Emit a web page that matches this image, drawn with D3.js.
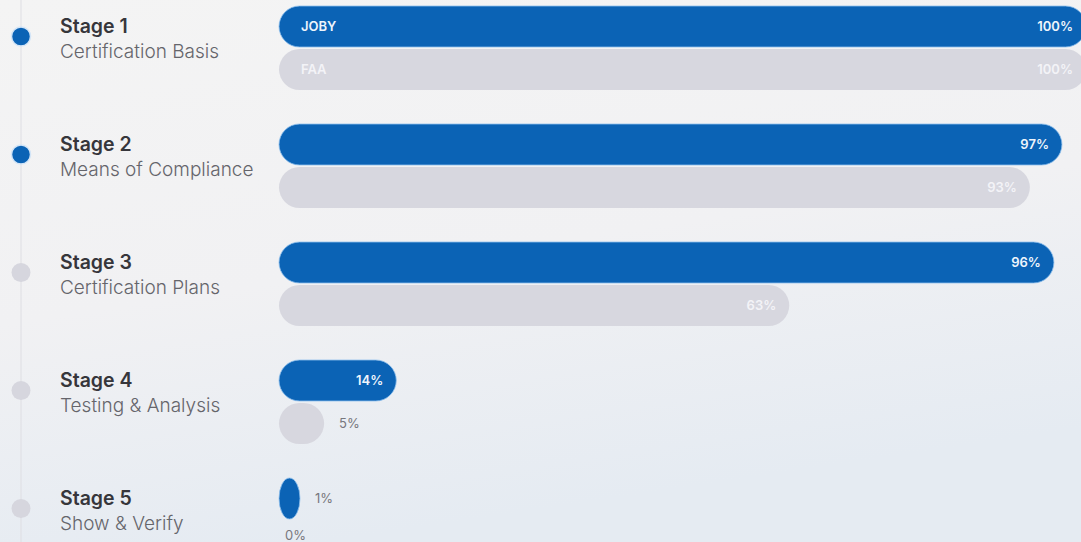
<!DOCTYPE html>
<html>
<head>
<meta charset="utf-8">
<script src="https://cdn.jsdelivr.net/npm/d3@7"></script>
<style>
  html, body { margin: 0; padding: 0; overflow: hidden; }
  body { width: 1081px; height: 542px; }
  text { font-family: Inter, Roboto, "Noto Sans", sans-serif; }
</style>
</head>
<body>
<div id="chart"></div>
<script>
// stages of the certification, with JOBY and FAA progress in percent
const stages = ["Stage 1", "Stage 2", "Stage 3", "Stage 4", "Stage 5"];
const stageNames = ["Certification Basis", "Means of Compliance", "Certification Plans", "Testing & Analysis", "Show & Verify"];
const jobyValues = [100, 97, 96, 14, 1];
const faaValues = [100, 93, 63, 5, 0];
const stageDone = [true, true, false, false, false];
const seriesNames = ["JOBY", "FAA"];

const width = 1081, height = 542;
const blue = "#0b63b5", grey = "#d7d7df";

var svg = d3.select("#chart").append("svg")
    .attr("width", width)
    .attr("height", height);

// soft background
var defs = svg.append("defs");
var bg = defs.append("linearGradient").attr("id", "bg")
    .attr("x1", "0").attr("y1", "0").attr("x2", "0.3").attr("y2", "1");
bg.append("stop").attr("offset", "0").attr("stop-color", "#f4f4f4");
bg.append("stop").attr("offset", "0.55").attr("stop-color", "#f1f1f3");
bg.append("stop").attr("offset", "1").attr("stop-color", "#e5ebf2");
svg.append("rect").attr("width", width).attr("height", height).attr("fill", "url(#bg)");

var yScale = d3.scaleBand()
    .domain(stages)
    .range([6, 6 + stages.length * 118]);

var xScale = d3.scaleLinear()
    .domain([0, 100])
    .range([284, 1086]);

const barX = 279, barH = 41, gap = 2;

function barWidth(v) {
    if (v <= 0) return 0;
    return Math.max(xScale(v) - barX, 21);
}

// timeline on the left
svg.append("line")
    .attr("x1", 21).attr("x2", 21)
    .attr("y1", 0).attr("y2", height)
    .style("stroke", "#dedee3")
    .style("stroke-width", 1);

var rows = svg.selectAll("g.row")
    .data(stages)
    .join("g")
    .attr("class", "row")
    .attr("transform", d => `translate(0, ${yScale(d)})`);

rows.append("circle")
    .attr("cx", 21)
    .attr("cy", 30.5)
    .attr("r", 9.5)
    .style("fill", (d, i) => stageDone[i] ? blue : "#d6d6de")
    .style("stroke", (d, i) => stageDone[i] ? "#d3e5f7" : "none")
    .style("stroke-width", 1.5);

rows.append("text")
    .attr("x", 60)
    .attr("y", 27)
    .style("font-size", "19.5px")
    .style("font-weight", 600)
    .style("fill", "#36363b")
    .text(d => d);

rows.append("text")
    .attr("x", 60)
    .attr("y", 52)
    .style("font-size", "19px")
    .style("font-weight", 300)
    .style("fill", "#65656b")
    .text((d, i) => stageNames[i]);

// bars: JOBY on top, FAA below
[jobyValues, faaValues].forEach(function (values, s) {
    var g = rows.append("g")
        .attr("transform", `translate(0, ${s * (barH + gap)})`);

    g.append("rect")
        .attr("x", barX)
        .attr("y", 0)
        .attr("height", barH)
        .attr("width", (d, i) => barWidth(values[i]))
        .attr("rx", (d, i) => Math.min(barH / 2, barWidth(values[i]) / 2))
        .attr("ry", barH / 2)
        .style("fill", s === 0 ? blue : grey)
        .style("stroke", s === 0 ? "#8fc0ee" : "none")
        .style("stroke-width", 0.8)
        .style("display", (d, i) => values[i] > 0 ? null : "none");

    g.append("text")
        .attr("x", function (d, i) {
            var w = barWidth(values[i]);
            if (w === 0) return barX + 6;
            return w > 60 ? barX + w - 13 : barX + w + 15;
        })
        .attr("y", (d, i) => values[i] > 0 ? barH / 2 + 4.5 : barH / 2 - 1.5)
        .attr("text-anchor", function (d, i) {
            return barWidth(values[i]) > 60 ? "end" : "start";
        })
        .style("font-size", "13px")
        .style("font-weight", (d, i) => barWidth(values[i]) > 60 ? 600 : 400)
        .style("fill", function (d, i) {
            if (barWidth(values[i]) <= 60) return "#77777d";
            return s === 0 ? "#eef5fc" : "#f3f3f7";
        })
        .text((d, i) => values[i] + "%");

    // series name inside the first bar
    g.filter((d, i) => i === 0)
        .append("text")
        .attr("x", barX + 22)
        .attr("y", barH / 2 + 4.5)
        .style("font-size", "13px")
        .style("font-weight", 600)
        .style("fill", s === 0 ? "#eef5fc" : "#f3f3f7")
        .text(seriesNames[s]);
});
</script>
</body>
</html>
